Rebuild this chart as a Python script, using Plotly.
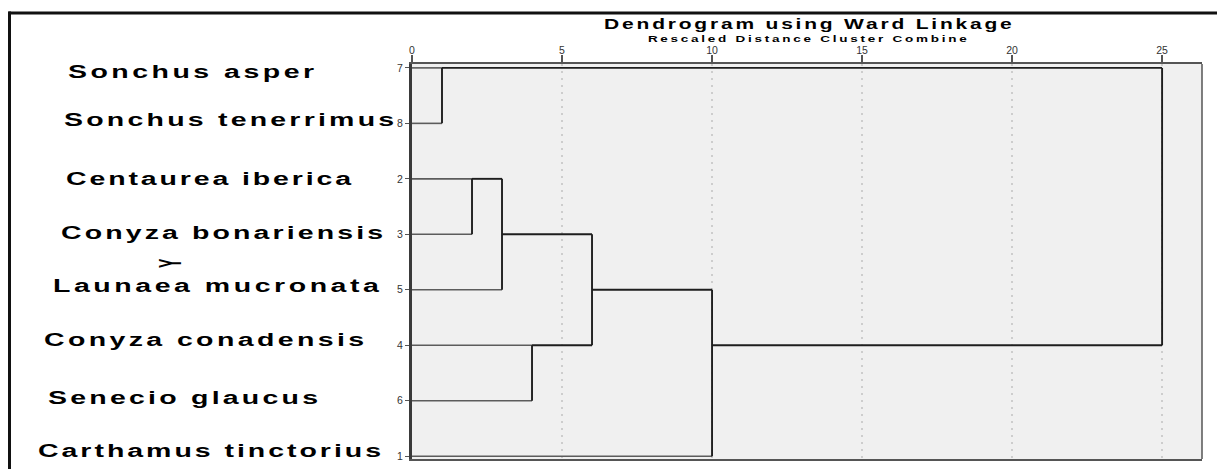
import math
import json
import plotly.graph_objects as go

# ---------------- data ----------------
species = ["Sonchus asper", "Sonchus tenerrimus", "Centaurea iberica",
           "Conyza bonariensis", "Launaea mucronata", "Conyza conadensis",
           "Senecio glaucus", "Carthamus tinctorius"]
leaf_ids = [7, 8, 2, 3, 5, 4, 6, 1]          # case numbers in dendrogram order (top -> bottom)

# agglomeration schedule: members are leaf ids or earlier stages "sN"
merge_left = [7, 2, "s2", 4, "s3", "s5", "s1"]
merge_right = [8, 3, 5, 6, "s4", 1, "s6"]
merge_dist = [1, 2, 3, 4, 6, 10, 25]          # rescaled distance cluster combine

x_ticks = [0, 5, 10, 15, 20, 25]
title_text = "Dendrogram using Ward Linkage"
subtitle_text = "Rescaled Distance Cluster Combine"
mark_text = "Y"

# ---------------- layout constants (pixels) ----------------
W, H = 1217, 470
ML, MR, MT, MB = 412, 15, 64, 8
XMAX = 26.33
YR = [7.05, -0.07]
STRETCH = 1.5          # the original picture's text is horizontally stretched

def px_x(px):
    return (px - ML) / (W - ML - MR)

def px_y(py):
    return 1 - (py - MT) / (H - MT - MB)

def spaced(text, ls):
    # letter spacing on every glyph but the last (no trailing gap)
    return '<span style="letter-spacing:%.2fpx">%s</span>%s' % (ls, text[:-1], text[-1])

# label placement (left pixel, vertical centre pixel) and letter spacing
label_left = [66, 62, 64, 59, 51, 42, 46, 36]
label_mid = [71.5, 120, 179, 233.5, 287, 342, 400, 453.5]
label_ls = [2.32, 2.14, 1.91, 2.07, 2.36, 2.25, 2.15, 1.98]

# ---------------- build dendrogram segments ----------------
pos = {lid: i for i, lid in enumerate(leaf_ids)}
xpos = {lid: 0 for lid in leaf_ids}
leaf_x, leaf_y, join_x, join_y = [], [], [], []
for k, (a, b, d) in enumerate(zip(merge_left, merge_right, merge_dist)):
    pa, pb = pos[a], pos[b]
    for m, p in ((a, pa), (b, pb)):
        if xpos[m] == 0:
            leaf_x += [0, d, None]
            leaf_y += [p, p, None]
        else:
            join_x += [xpos[m], d, None]
            join_y += [p, p, None]
    join_x += [d, d, None]
    join_y += [pa, pb, None]
    key = "s%d" % (k + 1)
    pos[key] = math.floor((pa + pb) / 2)
    xpos[key] = d

fig = go.Figure()
fig.add_trace(go.Scatter(x=leaf_x, y=leaf_y, mode="lines",
                         line=dict(color="#5c5c5c", width=1.6),
                         hoverinfo="skip", showlegend=False))
fig.add_trace(go.Scatter(x=join_x, y=join_y, mode="lines",
                         line=dict(color="#1e1e1e", width=1.9),
                         hoverinfo="skip", showlegend=False))

annotations = []
stretch_modes = []
for name, lx, ly, ls in zip(species, label_left, label_mid, label_ls):
    annotations.append(dict(
        text=spaced(name, ls),
        xref="paper", yref="paper", x=px_x(lx), y=px_y(ly),
        xanchor="left", yanchor="middle", showarrow=False,
        font=dict(family="Liberation Sans, Arial", size=19, color="#000000", weight=700)))
    stretch_modes.append(["l", STRETCH])

annotations.append(dict(
    text=mark_text, textangle=-90,
    xref="paper", yref="paper", x=px_x(170.5), y=px_y(264),
    xanchor="center", yanchor="middle", showarrow=False,
    font=dict(family="Liberation Sans, Arial", size=14, color="#000000", weight=700)))
stretch_modes.append(["v", 2.2])

annotations.append(dict(
    text=spaced(title_text, 1.87),
    xref="paper", yref="paper", x=px_x(807.5), y=px_y(23.3),
    xanchor="center", yanchor="middle", showarrow=False,
    font=dict(family="Liberation Sans, Arial", size=14, color="#000000", weight=700)))
stretch_modes.append(["c", STRETCH])
annotations.append(dict(
    text=spaced(subtitle_text, 1.83),
    xref="paper", yref="paper", x=px_x(807.5), y=px_y(39),
    xanchor="center", yanchor="middle", showarrow=False,
    font=dict(family="Liberation Sans, Arial", size=9, color="#000000", weight=700)))
stretch_modes.append(["c", STRETCH])

shapes = [
    # right edge of plot frame
    dict(type="line", xref="paper", yref="paper", x0=1, x1=1, y0=0, y1=1,
         line=dict(color="#555555", width=1.5)),
    # outer black border (top and left)
    dict(type="line", xref="paper", yref="paper",
         x0=px_x(8.5), x1=px_x(W + 2), y0=px_y(12.5), y1=px_y(12.5),
         line=dict(color="#111111", width=3)),
    dict(type="line", xref="paper", yref="paper",
         x0=px_x(9.5), x1=px_x(9.5), y0=px_y(11), y1=px_y(H + 2),
         line=dict(color="#111111", width=3)),
]

fig.update_layout(
    width=W, height=H,
    margin=dict(l=ML, r=MR, t=MT, b=MB),
    paper_bgcolor="#ffffff", plot_bgcolor="#f0f0f0",
    font=dict(family="Liberation Sans, Arial", color="#333333"),
    showlegend=False,
    annotations=annotations,
    shapes=shapes,
    xaxis=dict(range=[0, XMAX], side="top", tickvals=x_ticks,
               ticktext=[str(t) for t in x_ticks],
               ticks="outside", ticklen=7, tickwidth=1.5, tickcolor="#555555",
               tickfont=dict(size=10.5, color="#333333"), ticklabelstandoff=-3,
               showgrid=True, gridcolor="#cdcdcd", griddash="2px,5px", gridwidth=2,
               zeroline=False, showline=True, mirror=True,
               linecolor="#555555", linewidth=1.5, fixedrange=True),
    yaxis=dict(range=YR, tickvals=list(range(len(leaf_ids))),
               ticktext=[str(v) for v in leaf_ids],
               ticks="outside", ticklen=4, tickwidth=1, tickcolor="#555555",
               tickfont=dict(size=10.5, color="#333333"),
               showgrid=False, zeroline=False, showline=True,
               linecolor="#3a3a3a", linewidth=3, fixedrange=True),
)

post_js = """
document.body.style.margin = '0px';
var gd = document.getElementById('{plot_id}');
var modes = %s;
gd.querySelectorAll('g.annotation').forEach(function (a) {
  var i = +a.getAttribute('data-index');
  var m = modes[i];
  var t = a.querySelector('text.annotation-text');
  if (!m || !t) return;
  var bb = t.getBBox();
  var old = t.getAttribute('transform') || '';
  var tr;
  if (m[0] === 'l') {
    var p = bb.x;
    tr = 'translate(' + p + ',0) scale(' + m[1] + ',1) translate(' + (-p) + ',0)';
  } else if (m[0] === 'c') {
    var c = bb.x + bb.width / 2;
    tr = 'translate(' + c + ',0) scale(' + m[1] + ',1) translate(' + (-c) + ',0)';
  } else {
    var cx = bb.x + bb.width / 2, cy = bb.y + bb.height / 2;
    tr = 'translate(' + cx + ',' + cy + ') scale(1,' + m[1] + ') translate(' + (-cx) + ',' + (-cy) + ')';
  }
  t.setAttribute('transform', (old + ' ' + tr).trim());
});
""" % json.dumps(stretch_modes)

fig.write_html("out.html", config={"displayModeBar": False}, post_script=post_js)
